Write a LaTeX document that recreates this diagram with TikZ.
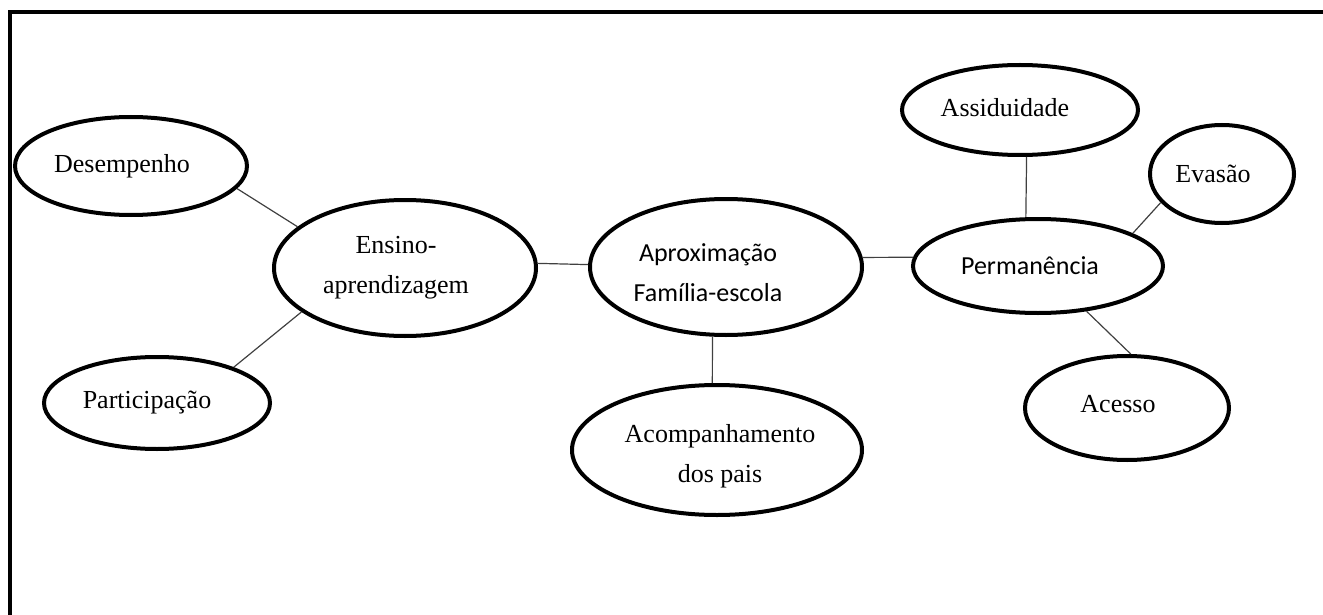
\documentclass[tikz,border=0pt]{standalone}
\usepackage{fontspec}
\setmainfont{Liberation Serif}
\newfontfamily\calib{Carlito}
\usetikzlibrary{shapes.geometric}
\begin{document}
\begin{tikzpicture}[x=0.5pt,y=-0.5pt,
  bub/.style={draw, ellipse, line width=2pt, inner sep=0pt},
  txt/.style={font=\fontsize{13}{20}\selectfont, align=center, inner sep=0pt},
  ctxt/.style={font=\calib\fontsize{13}{20}\selectfont, align=center, inner sep=0pt},
  lnk/.style={draw=black!75, line width=0.6pt},
  frm/.style={line width=2pt}]
\useasboundingbox (0,0) rectangle (1323,615);
\draw[frm] (1330,12) -- (10,12) -- (10,620);

\node[bub, minimum width=116pt, minimum height=49pt,
  label={[txt,xshift=-4.5pt]center:Desempenho}] (des) at (131,166) {};
\node[bub, minimum width=131pt, minimum height=68pt,
  label={[txt,xshift=-4.5pt]center:{Ensino-\\aprendizagem}}] (ens) at (405,268) {};
\node[bub, minimum width=113pt, minimum height=46pt,
  label={[txt,xshift=-5pt]center:Participação}] (par) at (157,403) {};
\node[bub, minimum width=136pt, minimum height=68pt,
  label={[ctxt,xshift=-9pt,yshift=-3pt]center:{Aproximação\\Família-escola}}] (apr) at (726,267) {};
\node[bub, minimum width=145pt, minimum height=65pt,
  label={[txt,xshift=1.5pt,yshift=-3pt]center:{Acompanhamento\\dos pais}}] (aco) at (717,450) {};
\node[bub, minimum width=125pt, minimum height=47pt,
  label={[ctxt,xshift=-4pt]center:Permanência}] (per) at (1038,266) {};
\node[bub, minimum width=118pt, minimum height=45pt,
  label={[txt,xshift=-7.5pt,yshift=1pt]center:Assiduidade}] (ass) at (1020,110) {};
\node[bub, minimum width=72pt, minimum height=49pt,
  label={[txt,xshift=-4.5pt]center:Evasão}] (eva) at (1222,174) {};
\node[bub, minimum width=102pt, minimum height=52pt,
  label={[txt,xshift=-4.5pt,yshift=2pt]center:Acesso}] (ace) at (1127,408) {};

\draw[lnk] (des.-12) -- (ens.159);
\draw[lnk] (par.25) -- (ens.203);
\draw[lnk] (ens.2) -- (apr.179);
\draw[lnk] (apr.-101) -- (aco.94);
\draw[lnk] (apr.4) -- (per.176);
\draw[lnk] (ass.-82) -- (per.104);
\draw[lnk] (eva.205) -- (per.19);
\draw[lnk] (per.-43) -- (ace.86);
\end{tikzpicture}
\end{document}
